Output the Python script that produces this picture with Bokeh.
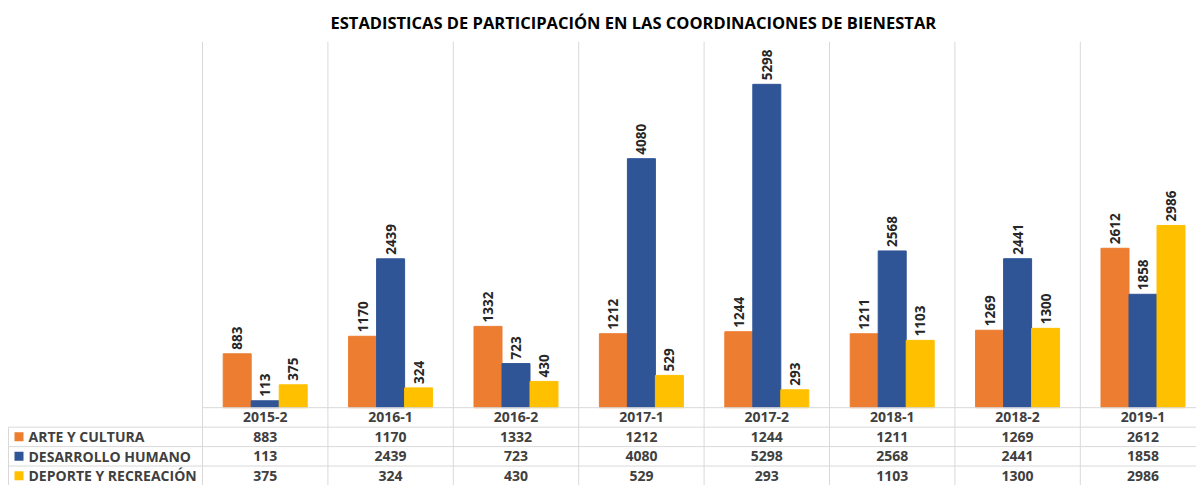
import numpy as np
from bokeh.plotting import figure
from bokeh.models import Range1d
from bokeh.core.properties import value
from bokeh.embed import file_html
from bokeh.resources import INLINE

# ---------------- data ----------------
categories = ["2015-2", "2016-1", "2016-2", "2017-1", "2017-2", "2018-1", "2018-2", "2019-1"]
series_names = ["ARTE Y CULTURA", "DESARROLLO HUMANO", "DEPORTE Y RECREACIÓN"]
arte_cultura = [883, 1170, 1332, 1212, 1244, 1211, 1269, 2612]
desarrollo_humano = [113, 2439, 723, 4080, 5298, 2568, 2441, 1858]
deporte_recreacion = [375, 324, 430, 529, 293, 1103, 1300, 2986]
colors = ["#ED7D31", "#2F5597", "#FFC000"]
title_text = "ESTADISTICAS DE PARTICIPACIÓN EN LAS COORDINACIONES DE BIENESTAR"

series_values = [arte_cultura, desarrollo_humano, deporte_recreacion]

# ---------------- layout constants ----------------
CAT_PX = 125.4          # pixel width of one category
LABEL_COL_PX = 202      # width of table label column
FIG_W, FIG_H = 1196, 485
TOP = 40
FRAME_H = FIG_H - TOP
PLOT_H = 367            # height of bar area
ROW_PX = 19.5
Y_MAX = 6000
GRID = "#D9D9D9"
FONT = value("Open Sans")

x_start = -LABEL_COL_PX / CAT_PX
x_end = (FIG_W - LABEL_COL_PX) / CAT_PX
y_start = -(FRAME_H - PLOT_H) * Y_MAX / PLOT_H

p = figure(width=FIG_W, height=FIG_H,
           x_range=Range1d(x_start, x_end), y_range=Range1d(y_start, Y_MAX),
           x_axis_location=None, y_axis_location=None,
           output_backend="svg", toolbar_location=None,
           min_border_left=0, min_border_right=0, min_border_top=TOP, min_border_bottom=0)
p.extra_y_ranges = {"tbl": Range1d(0, FRAME_H / ROW_PX)}
p.outline_line_color = None
p.grid.visible = False

p.title.text = title_text
p.title.align = "left"
p.title.offset = 330
p.title.standoff = 16
p.title.text_font = "Open Sans"
p.title.text_font_size = "16.5px"
p.title.text_font_style = "bold"
p.title.text_color = "#000000"

n = len(categories)
centers = np.arange(n) + 0.5

# vertical gridlines (through plot and table)
bounds = list(range(n))
p.segment(x0=bounds, y0=[y_start] * n, x1=bounds, y1=[Y_MAX] * n,
          line_color=GRID, line_width=1)

# bars + labels
bw = 28 / CAT_PX
offsets = [-bw, 0, bw]
for vals, col, off in zip(series_values, colors, offsets):
    xs = centers + off
    p.vbar(x=xs, top=vals, bottom=0, width=bw, fill_color=col, line_color=col)
    p.text(x=xs, y=vals, text=[str(v) for v in vals], angle=np.pi / 2,
           text_align="left", text_baseline="middle", y_offset=-4,
           text_font=FONT, text_font_size="13.5px", text_font_style="bold",
           text_color="#262626")

# ---------------- data table ----------------
p.segment(x0=[0], y0=[4], x1=[x_end], y1=[4], line_color=GRID, y_range_name="tbl")
p.segment(x0=[x_start + 8 / CAT_PX] * 3, y0=[3, 2, 1], x1=[x_end] * 3, y1=[3, 2, 1],
          line_color=GRID, y_range_name="tbl")
p.segment(x0=[x_start + 8 / CAT_PX], y0=[0], x1=[x_start + 8 / CAT_PX], y1=[3],
          line_color=GRID, y_range_name="tbl")

# header row
p.text(x=centers, y=[3.5] * n, text=categories, text_align="center", text_baseline="middle",
       text_font=FONT, text_font_size="14px", text_font_style="bold",
       text_color="#404040", y_range_name="tbl")

row_y = [2.5, 1.5, 0.5]
key_x = x_start + 18.5 / CAT_PX
for name, vals, col, ry in zip(series_names, series_values, colors, row_y):
    p.rect(x=[key_x], y=[ry], width=9, height=9, width_units="screen", height_units="screen",
           fill_color=col, line_color=None, y_range_name="tbl")
    p.text(x=[x_start], y=[ry], text=[name], x_offset=28, text_align="left",
           text_baseline="middle", text_font=FONT, text_font_size="14px",
           text_font_style="bold", text_color="#404040", y_range_name="tbl")
    p.text(x=centers, y=[ry] * n, text=[str(v) for v in vals], text_align="center",
           text_baseline="middle", text_font=FONT, text_font_size="14px",
           text_font_style="bold", text_color="#404040", y_range_name="tbl")

open("out.html", "w").write(file_html(p, INLINE))
